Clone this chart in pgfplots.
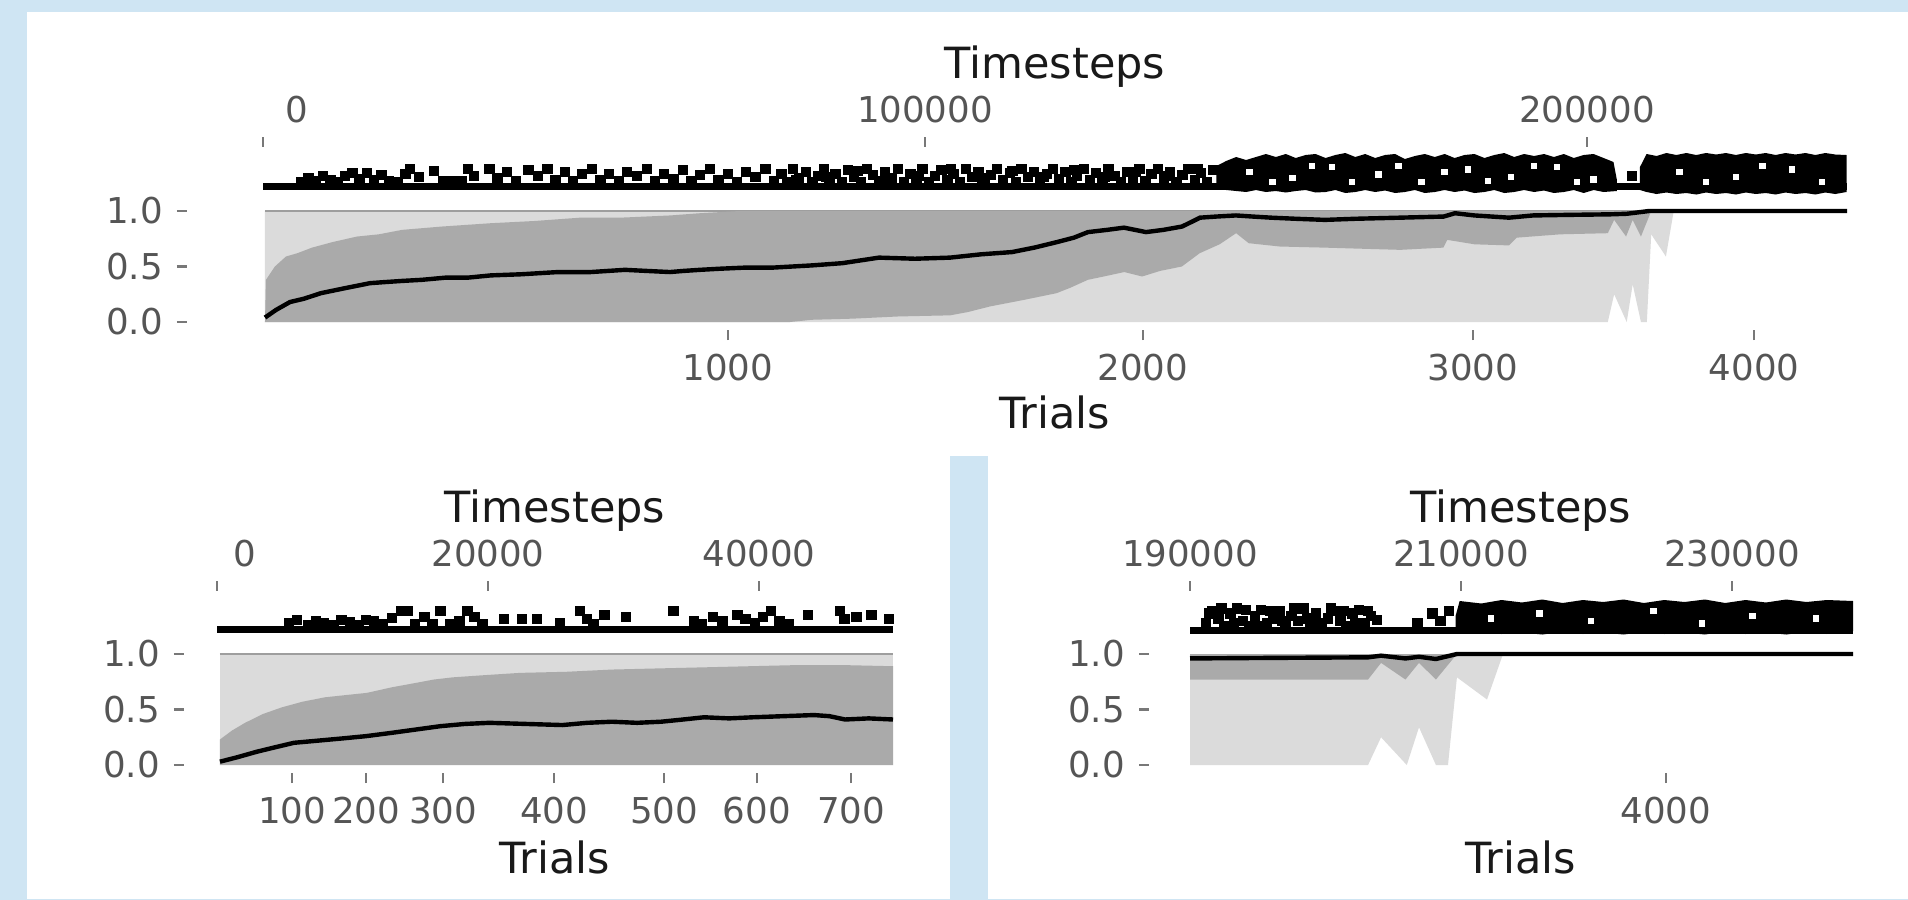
\documentclass[border=0pt]{standalone}
\usepackage{fontspec}
\setmainfont{DejaVu Sans}
\usepackage{pgfplots}
\pgfplotsset{compat=1.18}
\definecolor{bgblue}{RGB}{207,229,243}
\definecolor{lightband}{RGB}{219,219,219}
\definecolor{darkband}{RGB}{170,170,170}
\definecolor{topline}{RGB}{158,158,158}
\definecolor{tickgray}{RGB}{120,120,120}
\definecolor{labgray}{RGB}{85,85,85}
\definecolor{titleblack}{RGB}{25,25,25}
\newcommand\ticfont{\fontsize{8.9}{10}\selectfont}
\newcommand\ttlfont{\fontsize{10.75}{12}\selectfont}
\pgfplotsset{
 base/.style={scale only axis, clip=false, axis line style={draw=none}, tick align=outside,
   major tick length=2.5pt, tick style={draw=tickgray, line width=0.6pt},
   scaled x ticks=false, scaled y ticks=false,
   ticklabel style={font=\ticfont, text=labgray}, /pgf/number format/assume math mode=true},
 mainax/.style={base, ymin=0, ymax=1, height=27.75pt, axis x line*=bottom, axis y line*=left,
   axis x line shift=2pt, ytick={0,0.5,1}, yticklabels={0.0,0.5,1.0}},
 rugax/.style={base, ymin=0, ymax=1, height=12.5pt, axis x line*=top, axis y line=none},
 rugmark/.style={only marks, mark=square*, mark size=1.1pt, black},
 holemark/.style={only marks, mark=square*, mark size=0.6pt, white},
}
\begin{document}
\begin{tikzpicture}[x=0.25pt,y=-0.25pt]
\path[use as bounding box] (0,0) rectangle (1908,900);
\fill[bgblue] (0,0) rectangle (1908,900);
\fill[white] (27,12) rectangle (1908,899);
\fill[bgblue] (950,456) rectangle (988,900);

% ---------------- TOP PANEL ----------------
\begin{axis}[mainax, at={(65.75pt,-80.5pt)}, anchor=south west, width=396pt,
  xmin=0, xmax=239275, axis y line shift=19pt,
  xtick={70240,132930,182780,225230}, xticklabels={1000,2000,3000,4000}]
\addplot[fill=lightband, draw=none] coordinates {(300,0) (300,1) (213100,1) (211920,0.59) (209700,0.79) (209040,0) (208150,0) (206900,0.34) (206000,0) (204100,0.25) (203140,0)};
\addplot[topline, line width=0.6pt] coordinates {(300,1) (213100,1)};
\addplot[fill=darkband, draw=none] coordinates {(300,0) (450,0.38) (1800,0.5) (3470,0.59) (5200,0.62) (7400,0.67) (10500,0.72) (14200,0.77) (17500,0.79) (21000,0.83) (27000,0.86) (34400,0.89) (41000,0.91) (47900,0.94) (54000,0.94) (61500,0.96) (66000,0.98) (72000,1) (209700,1) (208150,0.77) (206900,0.92) (205900,0.77) (204100,0.92) (203140,0.80) (196000,0.79) (189400,0.76) (188200,0.69) (183000,0.70) (178900,0.74) (178300,0.67) (175000,0.66) (171800,0.65) (166000,0.66) (160400,0.67) (153600,0.68) (148900,0.71) (147000,0.80) (144500,0.70) (141500,0.62) (138800,0.50) (135500,0.46) (132800,0.41) (130100,0.45) (127000,0.41) (124600,0.38) (122000,0.31) (119900,0.26) (115000,0.20) (109800,0.14) (106500,0.09) (103800,0.06) (96000,0.05) (89000,0.03) (82900,0.02) (79600,0)};
\addplot[black, line width=1.1pt] coordinates {(300,0.04) (2000,0.11) (4080,0.18) (6200,0.21) (8760,0.26) (12000,0.30) (16160,0.35) (18500,0.36) (21000,0.37) (24000,0.38) (27640,0.40) (31000,0.40) (34440,0.42) (39000,0.43) (44560,0.45) (49500,0.45) (54680,0.47) (58000,0.46) (61480,0.45) (63500,0.46) (66010,0.47) (69000,0.48) (72810,0.49) (77000,0.49) (82930,0.51) (87500,0.53) (93050,0.58) (98500,0.57) (103780,0.58) (108500,0.61) (113140,0.63) (116500,0.67) (119940,0.72) (122500,0.76) (124620,0.81) (127500,0.83) (130060,0.85) (133380,0.81) (136000,0.83) (138820,0.86) (140200,0.90) (141540,0.94) (144000,0.95) (146980,0.96) (149500,0.95) (152270,0.94) (156000,0.93) (160420,0.92) (165000,0.93) (171750,0.94) (178350,0.95) (180060,0.98) (183000,0.96) (188220,0.94) (191850,0.96) (197000,0.965) (203480,0.97) (206000,0.975) (209370,1) (239275,1)};
\end{axis}

\begin{axis}[rugax, at={(65.75pt,-49.25pt)}, anchor=south west, width=396pt,
  xmin=0, xmax=239275, xtick={0,100000,200000},
  xticklabels={\makebox[0pt][l]{\hspace*{5.7pt}0},100000,200000}]
\addplot[black, line width=1.75pt] coordinates {(0,0.22) (239275,0.22)};
\addplot[rugmark] coordinates {(5800,0.3) (6900,0.38) (8000,0.32) (9100,0.42) (10200,0.34) (11300,0.3) (12400,0.42) (13500,0.48) (14600,0.36) (15700,0.48) (16800,0.34) (17900,0.44) (19000,0.32) (20300,0.3) (21500,0.46) (22200,0.56) (23600,0.4)
 (25800,0.52) (27200,0.32) (28600,0.32) (30000,0.32) (31000,0.56) (31900,0.42)
 (34200,0.56) (35400,0.38) (36900,0.5) (38200,0.32) (40100,0.54) (41500,0.42) (43000,0.56) (44200,0.34) (45600,0.5) (46800,0.32) (48200,0.46) (49700,0.56) (51000,0.34) (52300,0.46) (53800,0.32) (55000,0.5) (56500,0.42) (58000,0.56) (59200,0.32) (60600,0.46) (62000,0.36) (63400,0.54) (64700,0.32) (66000,0.44) (67500,0.56) (68800,0.34) (70200,0.46) (71600,0.3) (73000,0.5) (74400,0.4) (75900,0.56) (77200,0.32)
 (78300,0.46) (79200,0.3) (80100,0.56) (81000,0.38) (82000,0.5) (83000,0.3) (83800,0.42) (84700,0.56) (85600,0.34) (86500,0.46) (87500,0.3) (88400,0.54) (89300,0.4) (90300,0.3) (91200,0.56) (92100,0.44) (93100,0.32) (94000,0.5) (95000,0.38) (95900,0.56) (96800,0.3) (97800,0.46) (98700,0.36) (99600,0.56) (100600,0.3) (101500,0.42) (102500,0.54) (103400,0.34) (104300,0.46) (105300,0.3) (106200,0.56) (107100,0.4) (108100,0.5) (109000,0.3) (110000,0.44) (110900,0.56) (111800,0.34) (112800,0.48) (113700,0.3) (114600,0.56) (115600,0.4) (116500,0.5) (117400,0.3) (118400,0.46) (119300,0.56) (120200,0.36) (121200,0.5) (122100,0.3) (123000,0.42) (124000,0.56) (124900,0.34) (125800,0.48) (126800,0.3) (127700,0.56) (128600,0.42) (129600,0.3) (130500,0.5) (131400,0.38) (132400,0.56) (133300,0.32) (134200,0.46) (135200,0.56) (136100,0.36) (137000,0.5) (138000,0.3) (138900,0.44) (139800,0.56) (140800,0.34) (141700,0.48) (142600,0.3) (143500,0.54)
 (80600,0.34) (85100,0.4) (89800,0.52) (94500,0.34) (99100,0.42) (103900,0.56) (108600,0.38) (113200,0.52) (117900,0.4) (122600,0.54) (127200,0.4) (131900,0.5) (136600,0.42) (141200,0.56) (206800,0.42)};
\addplot[fill=black, draw=none] coordinates {(144000,0.62) (145500,0.72) (147000,0.8) (148500,0.74) (150000,0.8) (151500,0.86) (153000,0.8) (154500,0.86) (156000,0.78) (157500,0.84) (159000,0.86) (160500,0.78) (162000,0.84) (163500,0.88) (165000,0.8) (166500,0.86) (168000,0.78) (169500,0.84) (171000,0.86) (172500,0.76) (174000,0.82) (175500,0.86) (177000,0.8) (178500,0.86) (180000,0.78) (181500,0.84) (183000,0.86) (184500,0.78) (186000,0.84) (187500,0.88) (189000,0.8) (190500,0.86) (192000,0.82) (193500,0.86) (195000,0.8) (196500,0.86) (198000,0.78) (199500,0.84) (201000,0.86) (202500,0.78) (204000,0.7) (204500,0.35) (204500,0.12) (202500,0.1) (201000,0.14) (199500,0.08) (198000,0.14) (196500,0.1) (195000,0.08) (193500,0.13) (192000,0.1) (190500,0.14) (189000,0.1) (187500,0.08) (186000,0.14) (184500,0.1) (183000,0.08) (181500,0.13) (180000,0.1) (178500,0.14) (177000,0.1) (175500,0.08) (174000,0.14) (172500,0.1) (171000,0.08) (169500,0.13) (168000,0.1) (166500,0.14) (165000,0.1) (163500,0.08) (162000,0.14) (160500,0.1) (159000,0.09) (157500,0.14) (156000,0.12) (154500,0.09) (153000,0.12) (151500,0.1) (150000,0.14) (148500,0.1) (147000,0.12) (145500,0.14) (144000,0.16)};
\addplot[fill=black, draw=none] coordinates {(208000,0.6) (209000,0.86) (210500,0.82) (212000,0.88) (213500,0.84) (215000,0.88) (216500,0.84) (218000,0.88) (219500,0.85) (221000,0.88) (222500,0.84) (224000,0.88) (225500,0.85) (227000,0.88) (228500,0.84) (230000,0.88) (231500,0.85) (233000,0.88) (234500,0.84) (236000,0.88) (237500,0.85) (239200,0.84) (239200,0.1) (237500,0.06) (236000,0.09) (234500,0.05) (233000,0.08) (231500,0.06) (230000,0.09) (228500,0.05) (227000,0.08) (225500,0.06) (224000,0.09) (222500,0.05) (221000,0.08) (219500,0.06) (218000,0.09) (216500,0.05) (215000,0.08) (213500,0.06) (212000,0.09) (210500,0.06) (209000,0.1) (208000,0.14)};
\addplot[holemark] coordinates {(149000,0.5) (152500,0.3) (155500,0.38) (158500,0.62) (161500,0.6) (164500,0.3) (168500,0.45) (171500,0.62) (175000,0.3) (178500,0.5) (182000,0.55) (185000,0.32) (188500,0.4) (192000,0.62) (195500,0.6) (198500,0.3) (201000,0.35) (214000,0.5) (218000,0.3) (222500,0.4) (226500,0.62) (231000,0.55) (235500,0.3)};
\end{axis}
\node[anchor=base, font=\ttlfont, text=titleblack] at (1055,78) {Timesteps};
\node[anchor=base, font=\ttlfont, text=titleblack] at (1055,428) {Trials};

% ---------------- BOTTOM LEFT ----------------
\begin{axis}[mainax, at={(54.25pt,-191.25pt)}, anchor=south west, width=169pt,
  xmin=0, xmax=49890, axis y line shift=8.25pt,
  xtick={5535,11000,16680,24870,32990,39850,46790}, xticklabels={100,200,300,400,500,600,700}]
\addplot[fill=lightband, draw=none] coordinates {(220,0) (220,1) (49890,1) (49890,0)};
\addplot[topline, line width=0.6pt] coordinates {(220,1) (49890,1)};
\addplot[fill=darkband, draw=none] coordinates {(220,0) (220,0.23) (1100,0.31) (2070,0.38) (3400,0.46) (4800,0.52) (6300,0.57) (7970,0.61) (9500,0.63) (11070,0.65) (12900,0.70) (14690,0.74) (16000,0.77) (17420,0.79) (19800,0.81) (22360,0.83) (25800,0.84) (29150,0.86) (32500,0.87) (35940,0.88) (39300,0.89) (42730,0.90) (46300,0.90) (49890,0.89) (49890,0)};
\addplot[black, line width=1.1pt] coordinates {(220,0.03) (1500,0.07) (2950,0.12) (4300,0.16) (5680,0.20) (7500,0.22) (9300,0.24) (11000,0.26) (12900,0.29) (14700,0.32) (16500,0.35) (18300,0.37) (20100,0.38) (22800,0.37) (25500,0.36) (27300,0.38) (29150,0.39) (31000,0.38) (32770,0.39) (34400,0.41) (35940,0.43) (37800,0.42) (39560,0.43) (41800,0.44) (44060,0.45) (45200,0.44) (46350,0.41) (48100,0.42) (49890,0.41)};
\end{axis}
\begin{axis}[rugax, at={(54.25pt,-160.25pt)}, anchor=south west, width=169pt,
  xmin=0, xmax=49890, xtick={0,20000,40000},
  xticklabels={\makebox[0pt][l]{\hspace*{4.2pt}0},20000,40000}]
\addplot[black, line width=1.75pt] coordinates {(0,0.24) (49890,0.24)};
\addplot[rugmark] coordinates {(5300,0.35) (5900,0.42) (6700,0.32) (7300,0.4) (7900,0.35) (8600,0.32) (9200,0.42) (9800,0.38) (10500,0.32) (11000,0.42) (11600,0.4) (12200,0.34) (12900,0.46)
 (13600,0.6) (14100,0.6) (14600,0.34) (15300,0.48) (15900,0.34) (16500,0.6) (17200,0.34) (17900,0.4) (18500,0.6) (19000,0.48) (19600,0.34)
 (21200,0.44) (22500,0.44) (23600,0.44) (25300,0.36) (26800,0.6) (27300,0.44) (27800,0.34) (28600,0.52)
 (30200,0.48) (33700,0.6) (35200,0.4) (35800,0.34) (36600,0.48) (37300,0.4) (38400,0.52) (39000,0.44) (39700,0.36) (40300,0.48) (40900,0.6) (41500,0.4) (42200,0.34) (43600,0.52) (46000,0.6) (46300,0.44) (47200,0.48) (48300,0.52) (49600,0.44)};
\end{axis}
\node[anchor=base, font=\ttlfont, text=titleblack] at (555,522) {Timesteps};
\node[anchor=base, font=\ttlfont, text=titleblack] at (555,873) {Trials};

% ---------------- BOTTOM RIGHT ----------------
\begin{axis}[mainax, at={(297.5pt,-191.25pt)}, anchor=south west, width=165.75pt,
  xmin=190000, xmax=238930, axis y line shift=10.25pt,
  xtick={225130}, xticklabels={4000}]
\addplot[fill=lightband, draw=none] coordinates {(190000,0) (190000,1) (213100,1) (211920,0.59) (209700,0.79) (209040,0) (208150,0) (206900,0.34) (206000,0) (204100,0.25) (203140,0)};
\addplot[fill=darkband, draw=none] coordinates {(190000,0.77) (190000,1) (209700,1) (208150,0.77) (206900,0.92) (205900,0.77) (204100,0.92) (203140,0.77)};
\addplot[black, line width=1.1pt] coordinates {(190000,0.96) (196000,0.965) (203140,0.97) (204100,0.985) (205900,0.96) (206900,0.975) (208150,0.955) (209700,1) (238930,1)};
\end{axis}
\begin{axis}[rugax, at={(297.5pt,-160.25pt)}, anchor=south west, width=165.75pt,
  xmin=190000, xmax=238930, xtick={190000,210000,230000},
  xticklabels={190000,210000,230000}]
\addplot[black, line width=1.75pt] coordinates {(190000,0.22) (238930,0.22)};
\addplot[rugmark] coordinates {(191200,0.35) (191650,0.6) (192100,0.45) (192550,0.3) (193000,0.55) (193450,0.65) (193900,0.4) (194350,0.3) (194800,0.5) (195250,0.62) (195700,0.35) (196150,0.45) (196600,0.6) (197050,0.3) (197500,0.5) (197950,0.4) (198400,0.65) (198850,0.35) (199300,0.55) (199750,0.3) (200200,0.45) (200650,0.6) (201100,0.4) (201550,0.3) (202000,0.55) (202450,0.62) (202900,0.35) (203350,0.5) (203800,0.42)
 (191425,0.55) (192325,0.65) (193225,0.35) (194125,0.62) (195025,0.3) (195925,0.6) (196825,0.4) (197725,0.65) (198625,0.45) (199525,0.35) (200425,0.65) (201325,0.6) (202225,0.35) (203125,0.6)
 (206800,0.35) (207900,0.55) (208500,0.4) (209100,0.6)};
\addplot[fill=black, draw=none] coordinates {(209600,0.5) (209900,0.8) (211500,0.75) (213000,0.82) (214500,0.77) (216000,0.83) (217500,0.76) (219000,0.82) (220500,0.78) (222000,0.83) (223500,0.76) (225000,0.82) (226500,0.78) (228000,0.83) (229500,0.76) (231000,0.82) (232500,0.77) (234000,0.83) (235500,0.78) (237000,0.82) (238930,0.8) (238930,0.2) (237000,0.14) (235500,0.18) (234000,0.13) (232500,0.17) (231000,0.14) (229500,0.19) (228000,0.13) (226500,0.17) (225000,0.14) (223500,0.18) (222000,0.13) (220500,0.17) (219000,0.14) (217500,0.18) (216000,0.13) (214500,0.17) (213000,0.14) (211500,0.18) (209900,0.15) (209600,0.25)};
\addplot[holemark] coordinates {(212200,0.45) (215800,0.55) (219600,0.4) (224200,0.6) (227800,0.35) (231500,0.5) (236200,0.45)};
\end{axis}
\node[anchor=base, font=\ttlfont, text=titleblack] at (1521,522) {Timesteps};
\node[anchor=base, font=\ttlfont, text=titleblack] at (1521,873) {Trials};
\end{tikzpicture}
\end{document}
